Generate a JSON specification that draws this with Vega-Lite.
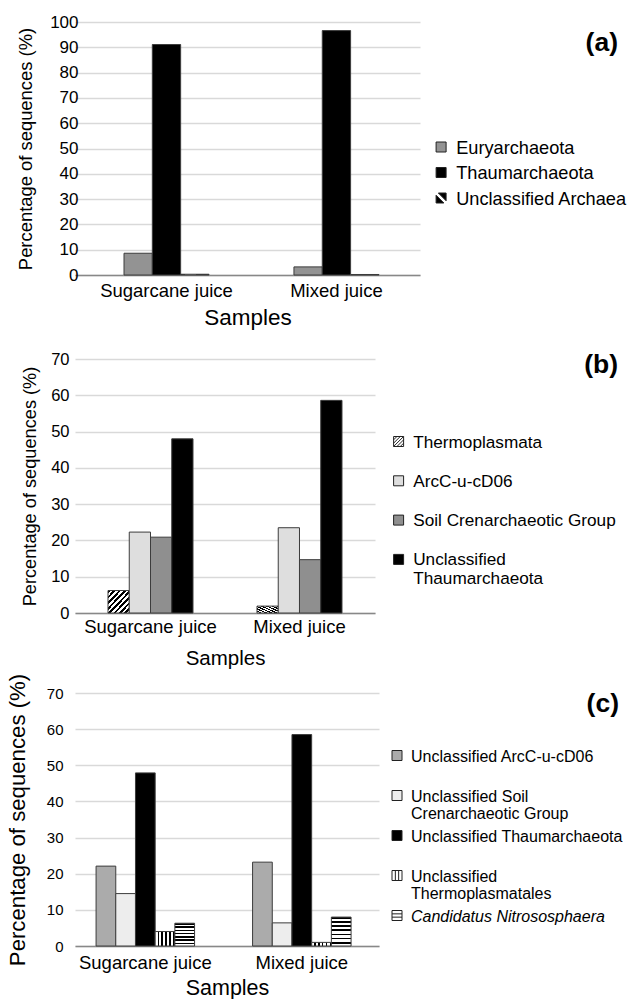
{
  "$schema": "https://vega.github.io/schema/vega-lite/v6.json",
  "padding": {"left": 6, "top": 13, "right": 0, "bottom": 0},
  "datasets": {
    "a": [
      {"sample": "Sugarcane juice", "taxon": "Euryarchaeota", "value": 8.6},
      {"sample": "Sugarcane juice", "taxon": "Thaumarchaeota", "value": 91.1},
      {"sample": "Sugarcane juice", "taxon": "Unclassified Archaea", "value": 0.3},
      {"sample": "Mixed juice", "taxon": "Euryarchaeota", "value": 3.2},
      {"sample": "Mixed juice", "taxon": "Thaumarchaeota", "value": 96.6},
      {"sample": "Mixed juice", "taxon": "Unclassified Archaea", "value": 0.2}
    ],
    "b": [
      {"sample": "Sugarcane juice", "taxon": "Thermoplasmata", "value": 6.2},
      {"sample": "Sugarcane juice", "taxon": "ArcC-u-cD06", "value": 22.3},
      {"sample": "Sugarcane juice", "taxon": "Soil Crenarchaeotic Group", "value": 20.9},
      {"sample": "Sugarcane juice", "taxon": "Unclassified Thaumarchaeota", "value": 48.0},
      {"sample": "Mixed juice", "taxon": "Thermoplasmata", "value": 1.9},
      {"sample": "Mixed juice", "taxon": "ArcC-u-cD06", "value": 23.5},
      {"sample": "Mixed juice", "taxon": "Soil Crenarchaeotic Group", "value": 14.7},
      {"sample": "Mixed juice", "taxon": "Unclassified Thaumarchaeota", "value": 58.6}
    ],
    "c": [
      {"sample": "Sugarcane juice", "taxon": "Unclassified ArcC-u-cD06", "value": 22.1},
      {"sample": "Sugarcane juice", "taxon": "Unclassified Soil Crenarchaeotic Group", "value": 14.5},
      {"sample": "Sugarcane juice", "taxon": "Unclassified Thaumarchaeota", "value": 47.9},
      {"sample": "Sugarcane juice", "taxon": "Unclassified Thermoplasmatales", "value": 4.0},
      {"sample": "Sugarcane juice", "taxon": "Candidatus Nitrososphaera", "value": 6.3},
      {"sample": "Mixed juice", "taxon": "Unclassified ArcC-u-cD06", "value": 23.2},
      {"sample": "Mixed juice", "taxon": "Unclassified Soil Crenarchaeotic Group", "value": 6.4},
      {"sample": "Mixed juice", "taxon": "Unclassified Thaumarchaeota", "value": 58.5},
      {"sample": "Mixed juice", "taxon": "Unclassified Thermoplasmatales", "value": 1.0},
      {"sample": "Mixed juice", "taxon": "Candidatus Nitrososphaera", "value": 8.0}
    ]
  },
  "spacing": 4,
  "vconcat": [
    {
      "width": 345,
      "height": 253,
      "data": {"name": "a"},
      "mark": {"type": "bar", "stroke": "#3c3c3c", "strokeWidth": 1},
      "encoding": {
        "x": {"field": "sample", "type": "nominal", "sort": ["Sugarcane juice", "Mixed juice"],
              "scale": {"paddingInner": 0.5, "paddingOuter": 0.265, "align": 0.544},
              "axis": {"title": ["Samples", ""], "titleLineHeight": 18, "labelFontSize": 18.5, "labelPadding": 6, "titleFontSize": 22.5, "titlePadding": 6.8}},
        "xOffset": {"field": "taxon", "type": "nominal", "sort": ["Euryarchaeota", "Thaumarchaeota", "Unclassified Archaea"],
                    "scale": {"paddingInner": 0, "paddingOuter": 0}},
        "y": {"field": "value", "type": "quantitative", "scale": {"domain": [0, 100]},
              "axis": {"title": "Percentage of sequences (%)", "values": [0, 10, 20, 30, 40, 50, 60, 70, 80, 90, 100],
                       "labelFontSize": 17, "labelPadding": -3, "titleFontSize": 18.4, "titlePadding": 13.7}},
        "fill": {"field": "taxon", "type": "nominal", "sort": ["Euryarchaeota", "Thaumarchaeota", "Unclassified Archaea"],
                 "scale": {"range": ["#939393", "#000000", "#000000"]},
                 "condition": {"test": "datum.taxon === 'Unclassified Archaea'",
                   "value": {"gradient": "linear", "x1": 0, "y1": 1, "x2": 1, "y2": 0, "stops": [
                     {"offset": 0, "color": "#000"}, {"offset": 0.4, "color": "#000"}, {"offset": 0.4, "color": "#fff"},
                     {"offset": 0.6, "color": "#fff"}, {"offset": 0.6, "color": "#000"}, {"offset": 1, "color": "#000"}]}},
                 "legend": {"title": "(a)", "legendX": 357, "legendY": 8, "titlePadding": 82, "labelFontSize": 18.2, "labelOffset": 6,
                   "rowPadding": 6.5, "clipHeight": 17, "titleFontSize": 26.5,
                   "encode": {
                     "title": {"update": {"dx": {"value": -9}}},
                     "symbols": {"update": {
                       "stroke": {"value": "#222222"},
                       "shape": [
                         {"test": "datum.value === 'Unclassified Archaea'", "value": "M-0.55,-1L1,-1L1,0.55Z M-1,-0.55L-1,1L0.55,1Z"},
                         {"value": "square"}]
                     }},
                     "labels": {"update": {"dy": {"value": 6.5}}}
                   }}}
      }
    },
    {
      "width": 300,
      "height": 254,
      "data": {"name": "b"},
      "mark": {"type": "bar", "stroke": "#3c3c3c", "strokeWidth": 1},
      "encoding": {
        "x": {"field": "sample", "type": "nominal", "sort": ["Sugarcane juice", "Mixed juice"],
              "scale": {"paddingInner": 0.4295, "paddingOuter": 0.2215, "align": 0.5},
              "axis": {"title": "Samples", "labelFontSize": 18.5, "labelPadding": 4, "titleFontSize": 20.5, "titlePadding": 12.5}},
        "xOffset": {"field": "taxon", "type": "nominal", "sort": ["Thermoplasmata", "ArcC-u-cD06", "Soil Crenarchaeotic Group", "Unclassified Thaumarchaeota"],
                    "scale": {"paddingInner": 0, "paddingOuter": 0}},
        "y": {"field": "value", "type": "quantitative", "scale": {"domain": [0, 70]},
              "axis": {"title": "Percentage of sequences (%)", "values": [0, 10, 20, 30, 40, 50, 60, 70],
                       "labelFontSize": 16.5, "labelPadding": 6, "titleFontSize": 18.2, "titlePadding": 11.4}},
        "fill": {"field": "taxon", "type": "nominal", "sort": ["Thermoplasmata", "ArcC-u-cD06", "Soil Crenarchaeotic Group", "Unclassified Thaumarchaeota"],
                 "scale": {"range": ["#ffffff", "#dedede", "#8f8f8f", "#000000"]},
                 "condition": {"test": "datum.taxon === 'Thermoplasmata'",
                   "value": {"gradient": "linear", "x1": 0, "y1": 0, "x2": 1, "y2": 1, "stops": [
                     {"offset": 0, "color": "#000"}, {"offset": 0.0625, "color": "#000"}, {"offset": 0.0625, "color": "#fff"}, {"offset": 0.125, "color": "#fff"},
                     {"offset": 0.125, "color": "#000"}, {"offset": 0.1875, "color": "#000"}, {"offset": 0.1875, "color": "#fff"}, {"offset": 0.25, "color": "#fff"},
                     {"offset": 0.25, "color": "#000"}, {"offset": 0.3125, "color": "#000"}, {"offset": 0.3125, "color": "#fff"}, {"offset": 0.375, "color": "#fff"},
                     {"offset": 0.375, "color": "#000"}, {"offset": 0.4375, "color": "#000"}, {"offset": 0.4375, "color": "#fff"}, {"offset": 0.5, "color": "#fff"},
                     {"offset": 0.5, "color": "#000"}, {"offset": 0.5625, "color": "#000"}, {"offset": 0.5625, "color": "#fff"}, {"offset": 0.625, "color": "#fff"},
                     {"offset": 0.625, "color": "#000"}, {"offset": 0.6875, "color": "#000"}, {"offset": 0.6875, "color": "#fff"}, {"offset": 0.75, "color": "#fff"},
                     {"offset": 0.75, "color": "#000"}, {"offset": 0.8125, "color": "#000"}, {"offset": 0.8125, "color": "#fff"}, {"offset": 0.875, "color": "#fff"},
                     {"offset": 0.875, "color": "#000"}, {"offset": 0.9375, "color": "#000"}, {"offset": 0.9375, "color": "#fff"}, {"offset": 1, "color": "#fff"}]}},
                 "legend": {"title": "(b)", "legendX": 315, "legendY": -7, "titlePadding": 53, "labelFontSize": 17.2, "labelOffset": 6,
                   "rowPadding": 19.3, "clipHeight": 20, "titleFontSize": 26.5,
                   "labelExpr": "datum.label === 'Unclassified Thaumarchaeota' ? ['Unclassified', 'Thaumarchaeota'] : datum.label",
                   "encode": {
                     "title": {"update": {"dx": {"value": 2}}},
                     "symbols": {"update": {
                       "stroke": {"value": "#222222"},
                       "shape": [
                         {"test": "datum.value === 'Thermoplasmata'", "value": "M-1,-1H1V1H-1Z M-1,-0.33L-0.33,-1 M-1,0.33L0.33,-1 M-1,1L1,-1 M-0.33,1L1,-0.33 M0.33,1L1,0.33"},
                         {"value": "square"}]
                     }},
                     "labels": {"update": {"dy": {"value": 6}, "lineHeight": {"value": 19}}}
                   }}}
      }
    },
    {
      "width": 304,
      "height": 253,
      "data": {"name": "c"},
      "mark": {"type": "bar", "stroke": "#3c3c3c", "strokeWidth": 1},
      "encoding": {
        "x": {"field": "sample", "type": "nominal", "sort": ["Sugarcane juice", "Mixed juice"],
              "scale": {"paddingInner": 0.3706, "paddingOuter": 0.1566, "align": 0.43},
              "axis": {"title": "Samples", "labelFontSize": 18.5, "labelPadding": 7, "titleFontSize": 21.5, "titlePadding": 6}},
        "xOffset": {"field": "taxon", "type": "nominal", "sort": ["Unclassified ArcC-u-cD06", "Unclassified Soil Crenarchaeotic Group", "Unclassified Thaumarchaeota", "Unclassified Thermoplasmatales", "Candidatus Nitrososphaera"],
                    "scale": {"paddingInner": 0, "paddingOuter": 0}},
        "y": {"field": "value", "type": "quantitative", "scale": {"domain": [0, 70]},
              "axis": {"title": "Percentage of sequences (%)", "values": [0, 10, 20, 30, 40, 50, 60, 70],
                       "labelFontSize": 15, "labelPadding": 12, "titleFontSize": 22.2, "titlePadding": 17}},
        "fill": {"field": "taxon", "type": "nominal", "sort": ["Unclassified ArcC-u-cD06", "Unclassified Soil Crenarchaeotic Group", "Unclassified Thaumarchaeota", "Unclassified Thermoplasmatales", "Candidatus Nitrososphaera"],
                 "scale": {"range": ["#ababab", "#ededed", "#000000", "#ffffff", "#ffffff"]},
                 "condition": [
                   {"test": "datum.taxon === 'Unclassified Thermoplasmatales'",
                    "value": {"gradient": "linear", "x1": 0, "y1": 0, "x2": 1, "y2": 0, "stops": [
                      {"offset": 0, "color": "#fff"}, {"offset": 0.12, "color": "#fff"}, {"offset": 0.12, "color": "#000"}, {"offset": 0.2, "color": "#000"},
                      {"offset": 0.2, "color": "#fff"}, {"offset": 0.32, "color": "#fff"}, {"offset": 0.32, "color": "#000"}, {"offset": 0.4, "color": "#000"},
                      {"offset": 0.4, "color": "#fff"}, {"offset": 0.52, "color": "#fff"}, {"offset": 0.52, "color": "#000"}, {"offset": 0.6, "color": "#000"},
                      {"offset": 0.6, "color": "#fff"}, {"offset": 0.72, "color": "#fff"}, {"offset": 0.72, "color": "#000"}, {"offset": 0.8, "color": "#000"},
                      {"offset": 0.8, "color": "#fff"}, {"offset": 0.92, "color": "#fff"}, {"offset": 0.92, "color": "#000"}, {"offset": 1, "color": "#000"}]}},
                   {"test": "datum.taxon === 'Candidatus Nitrososphaera'",
                    "value": {"gradient": "linear", "x1": 0, "y1": 0, "x2": 0, "y2": 1, "stops": [
                      {"offset": 0, "color": "#000"}, {"offset": 0.06, "color": "#000"}, {"offset": 0.06, "color": "#fff"}, {"offset": 0.1429, "color": "#fff"},
                      {"offset": 0.1429, "color": "#000"}, {"offset": 0.2029, "color": "#000"}, {"offset": 0.2029, "color": "#fff"}, {"offset": 0.2857, "color": "#fff"},
                      {"offset": 0.2857, "color": "#000"}, {"offset": 0.3457, "color": "#000"}, {"offset": 0.3457, "color": "#fff"}, {"offset": 0.4286, "color": "#fff"},
                      {"offset": 0.4286, "color": "#000"}, {"offset": 0.4886, "color": "#000"}, {"offset": 0.4886, "color": "#fff"}, {"offset": 0.5714, "color": "#fff"},
                      {"offset": 0.5714, "color": "#000"}, {"offset": 0.6314, "color": "#000"}, {"offset": 0.6314, "color": "#fff"}, {"offset": 0.7143, "color": "#fff"},
                      {"offset": 0.7143, "color": "#000"}, {"offset": 0.7743, "color": "#000"}, {"offset": 0.7743, "color": "#fff"}, {"offset": 0.8571, "color": "#fff"},
                      {"offset": 0.8571, "color": "#000"}, {"offset": 0.9171, "color": "#000"}, {"offset": 0.9171, "color": "#fff"}, {"offset": 1, "color": "#fff"}]}}
                 ],
                 "legend": {"title": "(c)", "legendX": 314, "legendY": -2, "titlePadding": 30, "labelFontSize": 16, "labelOffset": 6,
                   "rowPadding": 6, "gridAlign": "all", "titleFontSize": 26.5,
                   "labelExpr": "datum.label === 'Unclassified Soil Crenarchaeotic Group' ? ['Unclassified Soil', 'Crenarchaeotic Group'] : datum.label === 'Unclassified Thermoplasmatales' ? ['Unclassified', 'Thermoplasmatales'] : datum.label",
                   "encode": {
                     "title": {"update": {"dx": {"value": -4}}},
                     "symbols": {"update": {
                       "stroke": {"value": "#222222"},
                       "shape": [
                         {"test": "datum.value === 'Unclassified Thermoplasmatales'", "value": "M-1,-1H1V1H-1Z M-0.33,-1V1 M0.33,-1V1"},
                         {"test": "datum.value === 'Candidatus Nitrososphaera'", "value": "M-1,-1H1V1H-1Z M-1,-0.33H1 M-1,0.33H1"},
                         {"value": "square"}]
                     }},
                     "labels": {"update": {"dy": {"value": 6}, "lineHeight": {"value": 17},
                       "fontStyle": [{"test": "datum.value === 'Candidatus Nitrososphaera'", "value": "italic"}, {"value": "normal"}]}}
                   }}}
      }
    }
  ],
  "resolve": {
    "scale": {"x": "independent", "y": "independent", "xOffset": "independent", "fill": "independent"},
    "legend": {"fill": "independent"},
    "axis": {"x": "independent", "y": "independent"}
  },
  "config": {
    "font": "Liberation Sans",
    "view": {"stroke": null},
    "axis": {"labelColor": "#000000", "titleColor": "#000000", "titleFontWeight": "normal", "labelFont": "Liberation Sans", "titleFont": "Liberation Sans"},
    "axisY": {"domain": false, "ticks": false, "gridColor": "#d9d9d9", "gridWidth": 1.5},
    "axisX": {"domainColor": "#888888", "domainWidth": 1.5, "ticks": false, "grid": false, "labelAngle": 0},
    "legend": {"labelColor": "#000000", "titleColor": "#000000", "padding": 0, "symbolType": "square", "symbolSize": 100,
               "symbolStrokeColor": "#333333", "symbolStrokeWidth": 1, "labelLimit": 300, "orient": "none", "direction": "vertical",
               "titleAnchor": "end", "titleFontWeight": "bold", "titleFontSize": 25, "labelBaseline": "alphabetic",
               "labelFont": "Liberation Sans", "titleFont": "Liberation Sans"}
  }
}
